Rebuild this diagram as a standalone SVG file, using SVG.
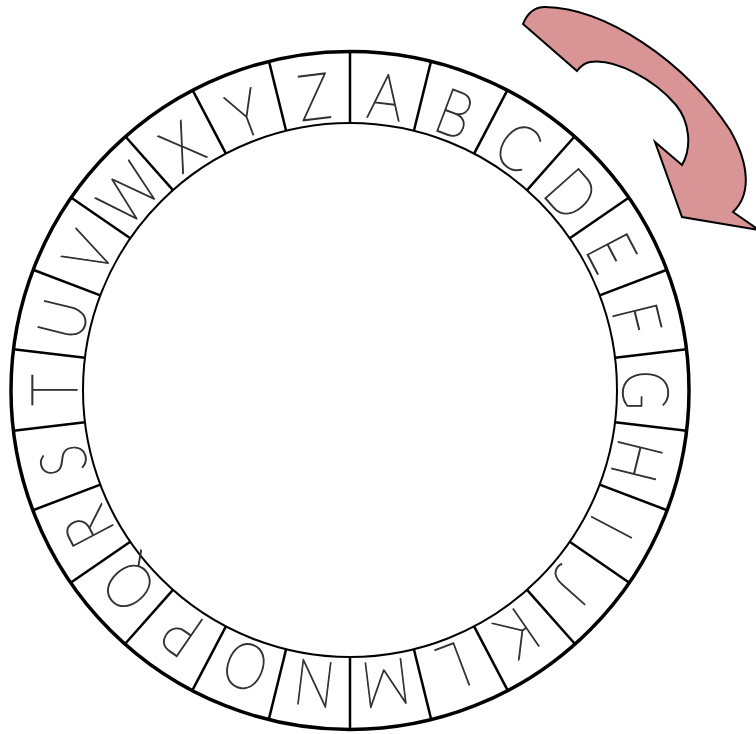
<svg xmlns="http://www.w3.org/2000/svg" xmlns:xlink="http://www.w3.org/1999/xlink" width="756" height="734" viewBox="0 0 756 734">
<style>
.ring{fill:none;stroke:#000}
.div{stroke:#000;stroke-width:2.5}
.lt{font-family:"DejaVu Sans ExtraLight","Lato","DejaVu Sans",sans-serif;font-weight:200;font-size:64px;fill:#333;stroke:#333;stroke-width:1.3;text-anchor:middle}
.arrow{fill:#d99595;stroke:#000;stroke-width:2;stroke-linejoin:miter}
</style>
<defs>
<line id="d" class="div" x1="350" y1="123" x2="350" y2="51"/>
</defs>
<rect width="756" height="734" fill="#fff"/>
<g id="wheel">
<circle class="ring" cx="350" cy="390.5" r="339" stroke-width="3.5"/>
<circle class="ring" cx="350" cy="390" r="267" stroke-width="2"/>
</g>
<g id="dividers">
<use xlink:href="#d" transform="rotate(0 350 390)"/>
<use xlink:href="#d" transform="rotate(13.846 350 390)"/>
<use xlink:href="#d" transform="rotate(27.692 350 390)"/>
<use xlink:href="#d" transform="rotate(41.538 350 390)"/>
<use xlink:href="#d" transform="rotate(55.385 350 390)"/>
<use xlink:href="#d" transform="rotate(69.231 350 390)"/>
<use xlink:href="#d" transform="rotate(83.077 350 390)"/>
<use xlink:href="#d" transform="rotate(96.923 350 390)"/>
<use xlink:href="#d" transform="rotate(110.769 350 390)"/>
<use xlink:href="#d" transform="rotate(124.615 350 390)"/>
<use xlink:href="#d" transform="rotate(138.462 350 390)"/>
<use xlink:href="#d" transform="rotate(152.308 350 390)"/>
<use xlink:href="#d" transform="rotate(166.154 350 390)"/>
<use xlink:href="#d" transform="rotate(180 350 390)"/>
<use xlink:href="#d" transform="rotate(193.846 350 390)"/>
<use xlink:href="#d" transform="rotate(207.692 350 390)"/>
<use xlink:href="#d" transform="rotate(221.538 350 390)"/>
<use xlink:href="#d" transform="rotate(235.385 350 390)"/>
<use xlink:href="#d" transform="rotate(249.231 350 390)"/>
<use xlink:href="#d" transform="rotate(263.077 350 390)"/>
<use xlink:href="#d" transform="rotate(276.923 350 390)"/>
<use xlink:href="#d" transform="rotate(290.769 350 390)"/>
<use xlink:href="#d" transform="rotate(304.615 350 390)"/>
<use xlink:href="#d" transform="rotate(318.462 350 390)"/>
<use xlink:href="#d" transform="rotate(332.308 350 390)"/>
<use xlink:href="#d" transform="rotate(346.154 350 390)"/>
</g>
<g id="letters">
<g id="letter-A" transform="translate(350 390) rotate(6.923) translate(0 -296) scale(0.85 1)"><text class="lt" y="23">A</text></g>
<g id="letter-B" transform="translate(350 390) rotate(20.769) translate(0 -296) scale(0.85 1)"><text class="lt" y="23">B</text></g>
<g id="letter-C" transform="translate(350 390) rotate(34.615) translate(0 -296) scale(0.85 1)"><text class="lt" y="23">C</text></g>
<g id="letter-D" transform="translate(350 390) rotate(48.462) translate(0 -296) scale(0.85 1)"><text class="lt" y="23">D</text></g>
<g id="letter-E" transform="translate(350 390) rotate(62.308) translate(0 -296) scale(0.85 1)"><text class="lt" y="23">E</text></g>
<g id="letter-F" transform="translate(350 390) rotate(76.154) translate(0 -296) scale(0.85 1)"><text class="lt" y="23">F</text></g>
<g id="letter-G" transform="translate(350 390) rotate(90) translate(0 -296) scale(0.85 1)"><text class="lt" y="23">G</text></g>
<g id="letter-H" transform="translate(350 390) rotate(103.846) translate(0 -296) scale(0.85 1)"><text class="lt" y="23">H</text></g>
<g id="letter-I" transform="translate(350 390) rotate(117.692) translate(0 -296) scale(0.85 1)"><text class="lt" y="23">I</text></g>
<g id="letter-J" transform="translate(350 390) rotate(131.538) translate(0 -296) scale(0.85 1)"><text class="lt" y="23">J</text></g>
<g id="letter-K" transform="translate(350 390) rotate(145.385) translate(0 -296) scale(0.85 1)"><text class="lt" y="23">K</text></g>
<g id="letter-L" transform="translate(350 390) rotate(159.231) translate(0 -296) scale(0.85 1)"><text class="lt" y="23">L</text></g>
<g id="letter-M" transform="translate(350 390) rotate(173.077) translate(0 -296) scale(0.85 1)"><text class="lt" y="23">M</text></g>
<g id="letter-N" transform="translate(350 390) rotate(186.923) translate(0 -296) scale(0.85 1)"><text class="lt" y="23">N</text></g>
<g id="letter-O" transform="translate(350 390) rotate(200.769) translate(0 -296) scale(0.85 1)"><text class="lt" y="23">O</text></g>
<g id="letter-P" transform="translate(350 390) rotate(214.615) translate(0 -296) scale(0.85 1)"><text class="lt" y="23">P</text></g>
<g id="letter-Q" transform="translate(350 390) rotate(228.462) translate(0 -296) scale(0.85 1)"><text class="lt" y="23">Q</text></g>
<g id="letter-R" transform="translate(350 390) rotate(242.308) translate(0 -296) scale(0.85 1)"><text class="lt" y="23">R</text></g>
<g id="letter-S" transform="translate(350 390) rotate(256.154) translate(0 -296) scale(0.85 1)"><text class="lt" y="23">S</text></g>
<g id="letter-T" transform="translate(350 390) rotate(270) translate(0 -296) scale(0.85 1)"><text class="lt" y="23">T</text></g>
<g id="letter-U" transform="translate(350 390) rotate(283.846) translate(0 -296) scale(0.85 1)"><text class="lt" y="23">U</text></g>
<g id="letter-V" transform="translate(350 390) rotate(297.692) translate(0 -296) scale(0.85 1)"><text class="lt" y="23">V</text></g>
<g id="letter-W" transform="translate(350 390) rotate(311.538) translate(0 -296) scale(0.85 1)"><text class="lt" y="23">W</text></g>
<g id="letter-X" transform="translate(350 390) rotate(325.385) translate(0 -296) scale(0.85 1)"><text class="lt" y="23">X</text></g>
<g id="letter-Y" transform="translate(350 390) rotate(339.231) translate(0 -296) scale(0.85 1)"><text class="lt" y="23">Y</text></g>
<g id="letter-Z" transform="translate(350 390) rotate(353.077) translate(0 -296) scale(0.85 1)"><text class="lt" y="23">Z</text></g>
</g>
<g id="arrow">
<path class="arrow" d="M523,24 C527,14 534,7 545,7 C605,8 684,60 730,130 C750,165 751,195 733,212 L759,230 L682,217 L655,142 L682,165 C692,148 690,122 676,105 C655,80 615,58 590,62 C584,63 580,67 577,71 Z"/>
</g>
</svg>
